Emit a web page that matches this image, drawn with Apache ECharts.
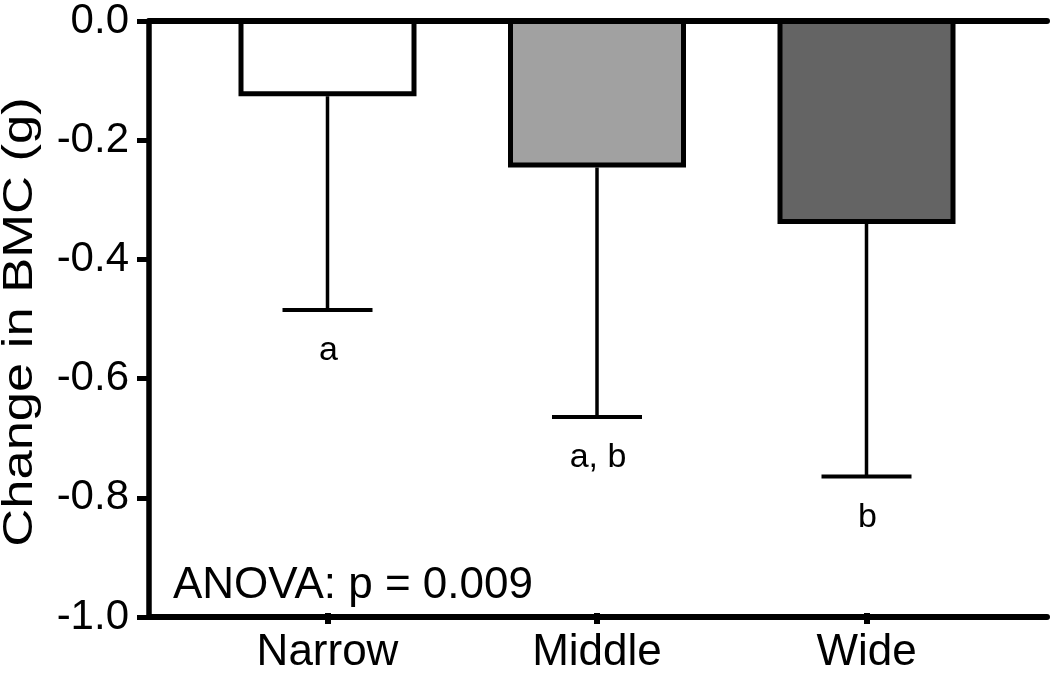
<!DOCTYPE html>
<html>
<head>
<meta charset="utf-8">
<script src="https://cdn.jsdelivr.net/npm/echarts@6/dist/echarts.min.js"></script>
<style>
html,body{margin:0;padding:0;background:#fff;}
#chart{width:1050px;height:675px;}
</style>
</head>
<body>
<div id="chart"></div>
<script>
var categories = ['Narrow', 'Middle', 'Wide'];
var means = [-0.13, -0.25, -0.345];
var errLow = [-0.49, -0.67, -0.77];
var letters = ['a', 'a, b', 'b'];
var barColors = ['#ffffff', '#a1a1a1', '#646464'];
var yMin = -1.0, yMax = 0.0, yInterval = 0.2;
var yTitle = 'Change in BMC (g)';
var anovaText = 'ANOVA: p = 0.009';

var FONT = '"Liberation Sans", Arial, Helvetica, sans-serif';
var chart = echarts.init(document.getElementById('chart'), null, {renderer: 'canvas'});

var errData = categories.map(function (c, i) { return [i, means[i], errLow[i], letters[i]]; });

var option = {
  animation: false,
  backgroundColor: '#ffffff',
  grid: [
    {left: 149, right: 3, top: 19, bottom: 58},
    {left: 192.75, right: 48.75, top: 19, bottom: 58}
  ],
  xAxis: [
    {gridIndex: 0, type: 'value', min: 0, max: 1, position: 'bottom',
     axisLine: {show: true, onZero: false, lineStyle: {color: '#000', width: 6}},
     axisTick: {show: false}, axisLabel: {show: false}, splitLine: {show: false}},
    {gridIndex: 0, type: 'value', min: 0, max: 1, position: 'top',
     axisLine: {show: true, onZero: false, lineStyle: {color: '#000', width: 6}},
     axisTick: {show: false}, axisLabel: {show: false}, splitLine: {show: false}},
    {gridIndex: 1, type: 'category', data: categories, position: 'bottom',
     axisLine: {show: false, onZero: false},
     axisTick: {show: true, alignWithLabel: true, length: 11, lineStyle: {color: '#000', width: 6}},
     axisLabel: {show: true, margin: 18, color: '#000', fontSize: 44, fontFamily: FONT},
     splitLine: {show: false}}
  ],
  yAxis: [
    {gridIndex: 0, type: 'value', min: yMin, max: yMax, interval: yInterval,
     axisLine: {show: true, onZero: false, lineStyle: {color: '#000', width: 5.5}},
     axisTick: {show: true, length: 12, lineStyle: {color: '#000', width: 5}},
     axisLabel: {show: true, margin: 20, color: '#000', fontSize: 42, fontFamily: FONT,
                 formatter: function (v) { return v.toFixed(1); }},
     splitLine: {show: false}},
    {gridIndex: 1, type: 'value', min: yMin, max: yMax, interval: yInterval, show: false}
  ],
  series: [
    {
      type: 'bar', xAxisIndex: 2, yAxisIndex: 1,
      barWidth: 178,
      data: means.map(function (v, i) {
        return {value: v, itemStyle: {color: barColors[i]}};
      }),
      itemStyle: {borderColor: '#000', borderWidth: 5},
      z: 2
    },
    {
      type: 'custom', xAxisIndex: 2, yAxisIndex: 1,
      data: errData,
      z: 3,
      renderItem: function (params, api) {
        var top = api.coord([api.value(0), api.value(1)]);
        var bot = api.coord([api.value(0), api.value(2)]);
        var half = 45;
        var txt = errData[params.dataIndex][3];
        return {
          type: 'group',
          children: [
            {type: 'line', shape: {x1: top[0], y1: top[1], x2: bot[0], y2: bot[1]},
             style: {stroke: '#000', lineWidth: 3.5}},
            {type: 'line', shape: {x1: bot[0] - half, y1: bot[1], x2: bot[0] + half, y2: bot[1]},
             style: {stroke: '#000', lineWidth: 4}},
            {type: 'text', x: bot[0] + 1, y: bot[1] + 41,
             style: {text: txt, font: '34px ' + FONT, fill: '#000',
                     align: 'center', verticalAlign: 'middle',
                     textAlign: 'center', textVerticalAlign: 'middle'}}
          ]
        };
      }
    }
  ],
  graphic: [
    {type: 'text', x: 20, y: 322, rotation: Math.PI / 2, scaleX: 1.25, scaleY: 1,
     style: {text: yTitle, font: '42px ' + FONT, fill: '#000',
             align: 'center', verticalAlign: 'middle',
             textAlign: 'center', textVerticalAlign: 'middle'}},
    {type: 'text', x: 173, y: 586,
     style: {text: anovaText, font: '44px ' + FONT, fill: '#000',
             align: 'left', verticalAlign: 'middle',
             textAlign: 'left', textVerticalAlign: 'middle'}}
  ]
};
chart.setOption(option);
</script>
</body>
</html>
